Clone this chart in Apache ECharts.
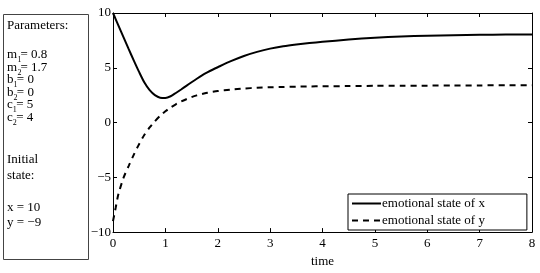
<!DOCTYPE html>
<html>
<head>
<meta charset="utf-8">
<script src="https://cdn.jsdelivr.net/npm/echarts@6/dist/echarts.min.js"></script>
<style>
html,body{margin:0;padding:0;background:#fff;}
#c{width:540px;height:273px;}
</style>
</head>
<body>
<div id="c"></div>
<script>
var times   = [0, 0.05, 0.1, 0.2, 0.3, 0.4, 0.5, 0.6, 0.7, 0.8, 0.9, 1.0, 1.1, 1.2, 1.3, 1.4, 1.5, 1.6, 1.7, 1.8, 1.9, 2.0, 2.25, 2.5, 2.75, 3.0, 3.25, 3.5, 3.75, 4.0, 4.5, 5.0, 5.5, 6.0, 6.5, 7.0, 7.5, 8.0];
var stateX  = [10, 9.45, 8.9, 7.8, 6.7, 5.63, 4.6, 3.65, 2.95, 2.5, 2.27, 2.25, 2.4, 2.7, 3.02, 3.35, 3.68, 4.0, 4.3, 4.57, 4.82, 5.05, 5.6, 6.08, 6.45, 6.75, 6.97, 7.13, 7.26, 7.37, 7.58, 7.74, 7.85, 7.93, 7.98, 8.01, 8.03, 8.04];
var stateY  = [-9, -7.8, -6.6, -5.05, -3.95, -2.9, -1.95, -1.12, -0.45, 0.12, 0.62, 1.03, 1.38, 1.67, 1.92, 2.13, 2.32, 2.48, 2.61, 2.72, 2.8, 2.87, 3.01, 3.11, 3.17, 3.22, 3.25, 3.28, 3.3, 3.31, 3.33, 3.35, 3.36, 3.37, 3.38, 3.39, 3.4, 3.4];
var seriesNames = ['emotional state of x', 'emotional state of y'];
var xTicks = [0, 1, 2, 3, 4, 5, 6, 7, 8];
var yTicks = [-10, -5, 0, 5, 10];

var FONT = '"Liberation Serif", "Times New Roman", serif';

function pairs(vals){ return times.map(function(t,i){ return [t, vals[i]]; }); }
function minus(v){ return String(v).replace('-', '\u2212'); }

var chart = echarts.init(document.getElementById('c'), null, {renderer:'canvas'});

var axisCommon = {
  axisLine: {show:true, onZero:false, lineStyle:{color:'#000', width:1}},
  axisTick: {show:true, inside:true, length:4, lineStyle:{color:'#000', width:1}},
  splitLine: {show:false}
};

function txt(x, y, s, size){
  return {type:'text', x:x, y:y, style:{text:s, fill:'#000', font:(size||13)+'px '+FONT, textVerticalAlign:'middle'}};
}

var paramRows = [
  ['m','1','= 0.8', 55, 17.5, 20.5],
  ['m','2','= 1.7', 67.5, 17.5, 20.5],
  ['b','1','= 0', 80, 13.6, 16.8],
  ['b','2','= 0', 92.5, 13.6, 16.8],
  ['c','1','= 5', 105, 12.8, 16.2],
  ['c','2','= 4', 117.5, 12.8, 16.2]
];
var gfx = [{type:'rect', shape:{x:3.5, y:14.5, width:85, height:245}, style:{fill:'#fff', stroke:'#444', lineWidth:1}}];
gfx.push(txt(7, 26, 'Parameters:'));
paramRows.forEach(function(r){
  gfx.push(txt(7, r[3], r[0]));
  gfx.push(txt(r[4], r[3]+5, r[1], 8));
  gfx.push(txt(r[5], r[3], r[2]));
});
gfx.push(txt(7, 160, 'Initial'));
gfx.push(txt(7, 175.5, 'state:'));
gfx.push(txt(7, 208, 'x = 10'));
gfx.push(txt(7, 222.5, 'y = \u22129'));

chart.setOption({
  animation:false,
  backgroundColor:'#fff',
  textStyle:{fontFamily:FONT},
  grid:{left:113, top:13, right:8, bottom:38},
  legend:{
    left:348, top:194, orient:'vertical', itemWidth:29, itemHeight:10, itemGap:4,
    padding:[3,42,3,3], borderColor:'#000', borderWidth:1, backgroundColor:'#fff',
    itemStyle:{opacity:0},
    textStyle:{fontFamily:FONT, fontSize:13, color:'#000', padding:[0,0,0,-4]},
    data: seriesNames
  },
  xAxis:[
    Object.assign({type:'value', min:0, max:8, interval:1, position:'bottom',
      name:'time', nameLocation:'middle', nameGap:18,
      nameTextStyle:{fontFamily:FONT, fontSize:13, color:'#000'},
      axisLabel:{fontFamily:FONT, fontSize:13, color:'#000', margin:5}}, axisCommon),
    Object.assign({type:'value', min:0, max:8, interval:1, position:'top', axisLabel:{show:false}}, axisCommon)
  ],
  yAxis:[
    Object.assign({type:'value', min:-10, max:10, interval:5, position:'left',
      axisLabel:{fontFamily:FONT, fontSize:13, color:'#000', margin:2, formatter:function(v){return minus(v);}}}, axisCommon),
    Object.assign({type:'value', min:-10, max:10, interval:5, position:'right', axisLabel:{show:false}}, axisCommon)
  ],
  series:[
    {name:seriesNames[0], type:'line', data:pairs(stateX), symbol:'none', smooth:0.25,
     lineStyle:{color:'#000', width:2, type:'solid'}, itemStyle:{color:'#000'}},
    {name:seriesNames[1], type:'line', data:pairs(stateY), symbol:'none', smooth:0.25,
     lineStyle:{color:'#000', width:2, type:[6,5]}, itemStyle:{color:'#000'}}
  ],
  graphic: gfx
});
</script>
</body>
</html>
